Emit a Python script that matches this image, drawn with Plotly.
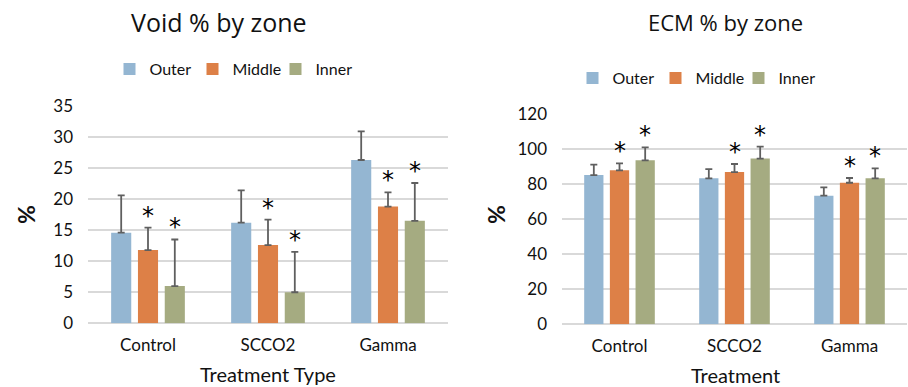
import plotly.graph_objects as go

categories = ["Control", "SCCO2", "Gamma"]
zones = ["Outer", "Middle", "Inner"]

void_outer = [14.6, 16.2, 26.3]
void_middle = [11.8, 12.6, 18.8]
void_inner = [6.0, 5.0, 16.5]
void_outer_err = [6.0, 5.2, 4.6]
void_middle_err = [3.6, 4.1, 2.3]
void_inner_err = [7.5, 6.5, 6.1]

ecm_outer = [85.3, 83.4, 73.5]
ecm_middle = [88.0, 87.0, 80.9]
ecm_inner = [93.7, 94.7, 83.4]
ecm_outer_err = [5.9, 5.3, 4.8]
ecm_middle_err = [4.0, 4.6, 2.7]
ecm_inner_err = [7.4, 6.8, 5.7]

# significance flags per zone (Outer, Middle, Inner)
void_sig = [False, True, True]
ecm_sig = [False, True, True]

colors = ["#94B6D2", "#DD8047", "#A5AB81"]
err_color = "#5f5f5f"
font_main = "Lato"
txt = "#111111"

fig = go.Figure()

void_vals = [void_outer, void_middle, void_inner]
void_errs = [void_outer_err, void_middle_err, void_inner_err]
ecm_vals = [ecm_outer, ecm_middle, ecm_inner]
ecm_errs = [ecm_outer_err, ecm_middle_err, ecm_inner_err]

for i, z in enumerate(zones):
    fig.add_trace(go.Bar(
        x=categories, y=void_vals[i], name=z, marker_color=colors[i],
        marker_line_width=0, xaxis="x", yaxis="y", legend="legend",
        error_y=dict(type="data", array=void_errs[i], symmetric=False,
                     arrayminus=[0]*3, color=err_color, thickness=1.8, width=3.5),
        offsetgroup=str(i),
    ))
for i, z in enumerate(zones):
    fig.add_trace(go.Bar(
        x=categories, y=ecm_vals[i], name=z, marker_color=colors[i],
        marker_line_width=0, xaxis="x2", yaxis="y2", legend="legend2",
        error_y=dict(type="data", array=ecm_errs[i], symmetric=False,
                     arrayminus=[0]*3, color=err_color, thickness=1.8, width=3.5),
        offsetgroup=str(i),
    ))

annotations = []
shifts = [-27, 0, 27]
for i in range(3):
    if void_sig[i]:
        for j, c in enumerate(categories):
            annotations.append(dict(
                x=c, y=void_vals[i][j] + void_errs[i][j], xref="x", yref="y",
                text="*", showarrow=False, xshift=shifts[i], yanchor="middle", yshift=12,
                font=dict(family="DejaVu Sans", size=24, color="#000000")))
shifts2 = [-25, 0, 25]
for i in range(3):
    if ecm_sig[i]:
        for j, c in enumerate(categories):
            annotations.append(dict(
                x=c, y=ecm_vals[i][j] + ecm_errs[i][j], xref="x2", yref="y2",
                text="*", showarrow=False, xshift=shifts2[i], yanchor="middle", yshift=12,
                font=dict(family="DejaVu Sans", size=24, color="#000000")))

W, H = 908, 387
def px(x):
    return x / W
def py(y):
    return 1 - y / H

def lab(text, x, y, size, family=font_main, angle=0):
    return dict(text=text, x=px(x), y=py(y), xref="paper", yref="paper",
                xanchor="center", yanchor="middle", textangle=angle,
                showarrow=False, font=dict(family=family, size=size, color=txt))

annotations += [
    lab("Void % by zone", 219, 22, 25, "Open Sans"),
    lab("ECM % by zone", 725, 22, 22, "Open Sans"),
    lab("Treatment Type", 268, 374, 20),
    lab("Treatment", 735, 375, 20),
    lab("<b>%</b>", 26, 215, 23, angle=-90),
    lab("<b>%</b>", 496, 215, 23, angle=-90),
]

tickfont = dict(family=font_main, size=17, color=txt)
grid = "#d9d9d9"

fig.update_layout(
    width=W, height=H,
    margin=dict(l=0, r=0, t=0, b=0, autoexpand=False),
    paper_bgcolor="white", plot_bgcolor="white",
    barmode="group", bargap=0.33, bargroupgap=0.25,
    annotations=annotations,
    xaxis=dict(domain=[px(88), px(448)], anchor="y", tickfont=tickfont,
               showline=False, ticks="", showgrid=False, ticklabelstandoff=10),
    yaxis=dict(domain=[1 - 323.3 / H, 1 - 106 / H], anchor="x", range=[0, 35], dtick=5,
               tickfont=tickfont, showgrid=True, gridcolor=grid, gridwidth=1.5,
               zeroline=True, zerolinecolor=grid, zerolinewidth=1.5, ticks="",
               ticklabelstandoff=14),
    xaxis2=dict(domain=[px(562), px(907)], anchor="y2", tickfont=tickfont,
                showline=False, ticks="", showgrid=False, ticklabelstandoff=10),
    yaxis2=dict(domain=[1 - 324.3 / H, 1 - 114.3 / H], anchor="x2", range=[0, 120], dtick=20,
                tickfont=tickfont, showgrid=True, gridcolor=grid, gridwidth=1.5,
                zeroline=True, zerolinecolor=grid, zerolinewidth=1.5, ticks="",
                ticklabelstandoff=14),
    legend=dict(orientation="h", x=px(234), y=py(69), xanchor="center", yanchor="middle",
                font=dict(family=font_main, size=16, color=txt),
                itemwidth=30, entrywidth=38, traceorder="normal", bgcolor="rgba(0,0,0,0)"),
    legend2=dict(orientation="h", x=px(697), y=py(78), xanchor="center", yanchor="middle",
                 font=dict(family=font_main, size=16, color=txt),
                 itemwidth=30, entrywidth=38, traceorder="normal", bgcolor="rgba(0,0,0,0)"),
)

fig.write_html("out.html", config={"displayModeBar": False},
               post_script="document.body.style.margin='0';document.body.style.overflow='hidden';")
